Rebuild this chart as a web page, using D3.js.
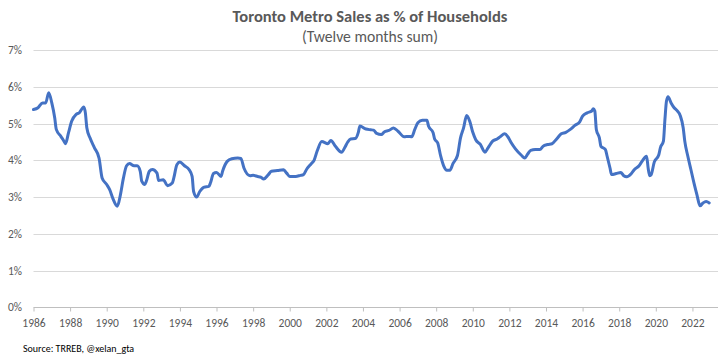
<!DOCTYPE html>
<html>
<head>
<meta charset="utf-8">
<script src="https://cdn.jsdelivr.net/npm/d3@7"></script>
<style>
  html, body { margin: 0; padding: 0; background: #ffffff; }
  svg { display: block; }
  text { font-family: Carlito, Calibri, Lato, "Open Sans", sans-serif; }
</style>
</head>
<body>
<svg id="chart" width="723" height="359"></svg>
<script>
// ---- Data ----
const titleText = "Toronto Metro Sales as % of Households";
const subtitleText = "(Twelve months sum)";
const sourceText = "Source: TRREB, @xelan_gta";

const months = [
  "1986-01","1986-04","1986-07","1986-09","1986-11","1987-01","1987-03","1987-04","1987-07","1987-09",
  "1987-10","1987-12","1988-02","1988-05","1988-07","1988-10","1988-11","1988-12","1989-02","1989-05",
  "1989-08","1989-10","1990-01","1990-03","1990-05","1990-08","1990-10","1990-12","1991-02","1991-04",
  "1991-07","1991-09","1991-11","1991-12","1992-02","1992-03","1992-05","1992-07","1992-10","1992-11",
  "1993-02","1993-05","1993-08","1993-09","1993-11","1994-01","1994-04","1994-07","1994-09","1994-10",
  "1994-12","1995-02","1995-05","1995-08","1995-09","1995-11","1996-01","1996-04","1996-05","1996-08",
  "1996-11","1997-03","1997-05","1997-07","1997-11","1998-01","1998-04","1998-06","1998-08","1998-11",
  "1999-01","1999-05","1999-09","1999-11","2000-01","2000-05","2000-08","2000-10","2000-12","2001-03",
  "2001-05","2001-07","2001-10","2002-02","2002-04","2002-07","2002-11","2003-01","2003-03","2003-05",
  "2003-08","2003-10","2003-11","2004-03","2004-06","2004-08","2004-10","2005-01","2005-03","2005-06",
  "2005-09","2005-12","2006-04","2006-07","2006-09","2006-11","2007-01","2007-04","2007-07","2007-08",
  "2007-11","2007-12","2008-02","2008-04","2008-06","2008-08","2008-10","2008-12","2009-03","2009-05",
  "2009-07","2009-09","2009-11","2010-01","2010-03","2010-06","2010-09","2010-11","2011-02","2011-05",
  "2011-07","2011-10","2011-12","2012-02","2012-05","2012-09","2012-11","2013-01","2013-03","2013-06",
  "2013-09","2013-11","2014-02","2014-05","2014-08","2014-11","2015-02","2015-05","2015-08","2015-11",
  "2016-01","2016-04","2016-07","2016-08","2016-09","2016-10","2016-12","2017-01","2017-04","2017-05",
  "2017-07","2017-08","2017-11","2018-02","2018-04","2018-06","2018-09","2018-11","2019-02","2019-04",
  "2019-07","2019-08","2019-09","2019-10","2019-12","2020-03","2020-04","2020-06","2020-07","2020-08",
  "2020-09","2020-11","2021-01","2021-03","2021-05","2021-07","2021-08","2021-10","2021-12","2022-02",
  "2022-04","2022-06","2022-08","2022-10","2022-12"
];

const salesPct = [
  5.38,5.43,5.56,5.56,5.84,5.56,5.15,4.84,4.65,4.52,
  4.45,4.75,5.06,5.25,5.29,5.45,5.29,4.88,4.61,4.34,
  4.06,3.52,3.34,3.20,2.97,2.75,3.06,3.52,3.85,3.91,
  3.85,3.85,3.70,3.43,3.34,3.43,3.70,3.75,3.65,3.45,
  3.47,3.31,3.38,3.52,3.88,3.95,3.85,3.75,3.56,3.15,
  3.00,3.15,3.27,3.29,3.38,3.64,3.67,3.56,3.70,3.97,
  4.04,4.06,4.05,3.79,3.58,3.59,3.56,3.54,3.49,3.61,
  3.70,3.72,3.74,3.65,3.56,3.56,3.59,3.61,3.75,3.90,
  4.00,4.25,4.51,4.45,4.54,4.38,4.22,4.34,4.49,4.58,
  4.59,4.76,4.93,4.85,4.83,4.82,4.73,4.70,4.77,4.81,
  4.88,4.79,4.64,4.65,4.64,4.84,5.02,5.09,5.09,4.93,
  4.75,4.58,4.47,4.11,3.84,3.73,3.73,3.91,4.13,4.61,
  4.88,5.22,5.06,4.76,4.56,4.43,4.22,4.34,4.52,4.58,
  4.64,4.72,4.64,4.49,4.31,4.13,4.06,4.17,4.27,4.29,
  4.29,4.38,4.43,4.45,4.58,4.72,4.76,4.84,4.95,5.04,
  5.20,5.29,5.34,5.40,5.34,4.84,4.61,4.38,4.29,4.13,
  3.79,3.61,3.64,3.67,3.58,3.55,3.64,3.75,3.85,3.97,
  4.11,3.79,3.58,3.61,3.95,4.15,4.34,4.52,5.11,5.61,
  5.73,5.56,5.43,5.35,5.22,4.88,4.52,4.11,3.75,3.38,
  3.06,2.76,2.84,2.88,2.84
];

const yTicks = [0, 1, 2, 3, 4, 5, 6, 7];
const xTickYears = [1986,1988,1990,1992,1994,1996,1998,2000,2002,2004,2006,2008,2010,2012,2014,2016,2018,2020,2022];

// ---- Layout ----
const svg = d3.select("#chart");
const W = 723, H = 359;
const plot = { left: 33.5, right: 718, top: 50, bottom: 307.3 };

const parse = d3.timeParse("%Y-%m");
const series = months.map((m, i) => ({ date: parse(m), value: salesPct[i] }));

const x = d3.scaleTime()
  .domain([new Date(1986, 0, 1), new Date(2023, 4, 26)])
  .range([plot.left, plot.right]);
const y = d3.scaleLinear()
  .domain([0, 7])
  .range([plot.bottom, plot.top]);

const textColor = "#595959";

// Gridlines
svg.append("g")
  .selectAll("line")
  .data(yTicks.filter(d => d > 0))
  .join("line")
  .attr("x1", plot.left).attr("x2", plot.right)
  .attr("y1", d => Math.round(y(d)) + 0.5).attr("y2", d => Math.round(y(d)) + 0.5)
  .attr("stroke", "#d9d9d9").attr("stroke-width", 1);

// Y axis labels
const yAxis = d3.axisLeft(y).tickValues(yTicks).tickFormat(d => d + "%").tickSize(0).tickPadding(0);
const gy = svg.append("g").attr("transform", `translate(22,0)`).call(yAxis);
gy.select(".domain").remove();
gy.selectAll("text")
  .attr("fill", textColor)
  .style("font-size", "11.5px");

// X axis
const xAxis = d3.axisBottom(x)
  .tickValues(xTickYears.map(yr => new Date(yr, 0, 1)))
  .tickFormat(d3.timeFormat("%Y"))
  .tickSizeInner(4).tickSizeOuter(0).tickPadding(7);
const gx = svg.append("g").attr("transform", `translate(0,${Math.round(plot.bottom) + 0.5})`).call(xAxis);
gx.select(".domain").attr("stroke", "#bfbfbf").attr("d", `M${plot.left},0H${plot.right}`);
gx.selectAll(".tick line").attr("stroke", "#bfbfbf");
gx.selectAll("text")
  .attr("fill", textColor)
  .style("font-size", "11.5px");

// Line
const line = d3.line()
  .x(d => x(d.date))
  .y(d => y(d.value))
  .curve(d3.curveMonotoneX);

svg.append("path")
  .datum(series)
  .attr("fill", "none")
  .attr("stroke", "#4472C4")
  .attr("stroke-width", 3)
  .attr("stroke-linejoin", "round")
  .attr("stroke-linecap", "round")
  .attr("d", line);

// Title
const title = svg.append("text")
  .attr("x", 370).attr("y", 22)
  .attr("text-anchor", "middle")
  .attr("fill", textColor)
  .style("font-size", "18px")
  .style("font-weight", "bold")
  .text(titleText);
// fit title width to reference (~275px)
const tw = title.node().getComputedTextLength();
if (tw > 0) title.style("font-size", (18 * 275 / tw).toFixed(2) + "px");

const sub = svg.append("text")
  .attr("x", 370).attr("y", 42)
  .attr("text-anchor", "middle")
  .attr("fill", textColor)
  .style("font-size", "14px")
  .text(subtitleText);
const sw = sub.node().getComputedTextLength();
if (sw > 0) sub.style("font-size", (14 * 136 / sw).toFixed(2) + "px");

// Source
svg.append("text")
  .attr("x", 23).attr("y", 352)
  .attr("fill", "#000000")
  .style("font-size", "10px")
  .text(sourceText);
</script>
</body>
</html>
